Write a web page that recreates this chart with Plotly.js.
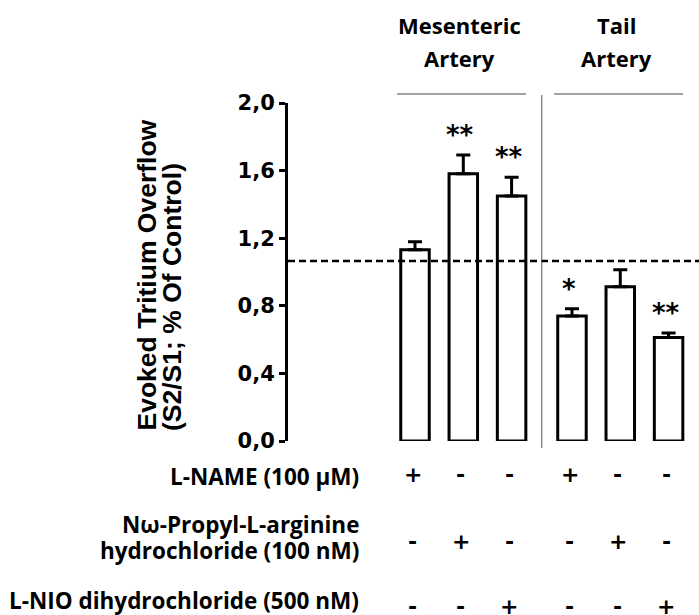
<!DOCTYPE html>
<html>
<head>
<meta charset="utf-8">
<script src="https://cdn.plot.ly/plotly-3.0.1.min.js"></script>
<style>html,body{margin:0;padding:0;background:#fff;}#chart{width:699px;height:615px;}</style>
</head>
<body>
<div id="chart"></div>
<script>
// ---- data ----
const groupNames = [["Mesenteric", "Artery"], ["Tail", "Artery"]];
const barGroup = [0, 0, 0, 1, 1, 1];
const barIndexInGroup = [0, 1, 2, 0, 1, 2];
const values = [1.131, 1.582, 1.449, 0.740, 0.913, 0.613];
const errors = [0.048, 0.111, 0.111, 0.042, 0.100, 0.026];
const significance = ["", "**", "**", "*", "", "**"];
const controlLevel = 1.065;
const rowLabels = [["L-NAME (100 μM)"], ["Nω-Propyl-L-arginine", "hydrochloride (100 nM)"], ["L-NIO dihydrochloride (500 nM)"]];
const lName = ["+", "-", "-", "+", "-", "-"];
const propylArg = ["-", "+", "-", "-", "+", "-"];
const lNio = ["-", "-", "+", "-", "-", "+"];
const yTickVals = [0, 0.4, 0.8, 1.2, 1.6, 2.0];
const yTitle = ["Evoked Tritium Overflow", "(S2/S1; % Of Control)"];

// ---- layout helpers ----
const W = 699, H = 615;
const M = {l: 288, r: 0, t: 103, b: 174};
const PW = W - M.l - M.r, PH = H - M.t - M.b;
const px2x = px => (px - M.l) / PW;
const py2y = py => (H - M.b - py) / PH;
const GROUP_GAP = 3.25;
const xs = barIndexInGroup.map((i, k) => i + barGroup[k] * GROUP_GAP);
const groupCenters = groupNames.map((_, g) => 1 + g * GROUP_GAP);

const bold = (fam, size) => ({family: fam, size: size, color: "#000", weight: "bold"});
const tableFont = bold("Open Sans", 22.5);
const headFont = bold("Open Sans", 22);
const markFont = bold("DejaVu Sans", 22);

const annotations = [];
// group headers
groupNames.forEach((lines, g) => {
  lines.forEach((t, li) => {
    annotations.push({xref: "x", yref: "paper", x: groupCenters[g] - 0.07, y: py2y([24.5, 57.5][li]),
      text: "<b>" + t + "</b>", showarrow: false, xanchor: "center", yanchor: "middle", font: headFont});
  });
});
// significance stars
xs.forEach((x, k) => {
  if (!significance[k]) return;
  annotations.push({xref: "x", yref: "y", x: x - 0.06, y: values[k] + errors[k], text: "<b>" + significance[k] + "</b>",
    showarrow: false, xanchor: "center", yanchor: "bottom", yshift: 3,
    font: bold("DejaVu Sans", 26)});
});
// y title (two lines, left aligned in text direction)
yTitle.forEach((t, li) => {
  annotations.push({xref: "paper", yref: "paper", x: px2x([146, 172][li]), y: py2y(433), text: "<b>" + t + "</b>",
    textangle: -90, showarrow: false, xanchor: "center", yanchor: "bottom",
    font: bold("Liberation Sans", 26.5)});
});
// row labels
const rowLineY = [[476.5], [524, 550], [600]];
rowLabels.forEach((lines, r) => {
  lines.forEach((t, li) => {
    annotations.push({xref: "paper", yref: "paper", x: px2x(361), y: py2y(rowLineY[r][li]), text: "<b>" + t + "</b>",
      showarrow: false, xanchor: "right", yanchor: "middle", font: tableFont});
  });
});
// +/- marks
const markRows = [lName, propylArg, lNio];
const markY = [474, 541, 606];
markRows.forEach((row, r) => {
  row.forEach((m, k) => {
    annotations.push({xref: "x", yref: "paper", x: xs[k] - 0.05, y: py2y(markY[r]), text: "<b>" + m + "</b>",
      showarrow: false, xanchor: "center", yanchor: "middle", font: markFont});
  });
});

const shapes = [
  // control level dashed line
  {type: "line", xref: "paper", yref: "y", x0: 0, x1: 1, y0: controlLevel, y1: controlLevel,
   line: {color: "#000", width: 2.6, dash: "7px,4px"}, layer: "above"},
  // separator between groups
  {type: "line", xref: "x", yref: "paper", x0: (xs[2] + xs[3]) / 2, x1: (xs[2] + xs[3]) / 2,
   y0: py2y(448), y1: py2y(95), line: {color: "#555", width: 1}}
];
groupCenters.forEach(c => {
  shapes.push({type: "line", xref: "x", yref: "paper", x0: c - 1.37, x1: c + 1.30, y0: py2y(94), y1: py2y(94),
    line: {color: "#444", width: 1}});
});

const trace = {
  type: "bar", x: xs, y: values, width: 0.59, cliponaxis: false,
  marker: {color: "#fff", line: {color: "#000", width: 3}},
  error_y: {type: "data", array: errors, arrayminus: errors.map(() => 0), symmetric: false,
    color: "#000", thickness: 3, width: 7},
  hoverinfo: "none"
};

const layout = {
  width: W, height: H, margin: M, showlegend: false,
  paper_bgcolor: "#fff", plot_bgcolor: "#fff", separators: ",.",
  xaxis: {range: [(M.l - 415) / 48.3, (W - 415) / 48.3], visible: false, fixedrange: true},
  yaxis: {range: [0, 2], tickvals: yTickVals, tickformat: ".1f", showgrid: false, zeroline: false,
    showline: true, linewidth: 3, linecolor: "#000", ticks: "outside", ticklen: 6, tickwidth: 3, tickcolor: "#000",
    tickfont: bold("DejaVu Sans", 21), fixedrange: true},
  annotations: annotations, shapes: shapes
};

Plotly.newPlot("chart", [trace], layout, {staticPlot: true, displayModeBar: false});
</script>
</body>
</html>
